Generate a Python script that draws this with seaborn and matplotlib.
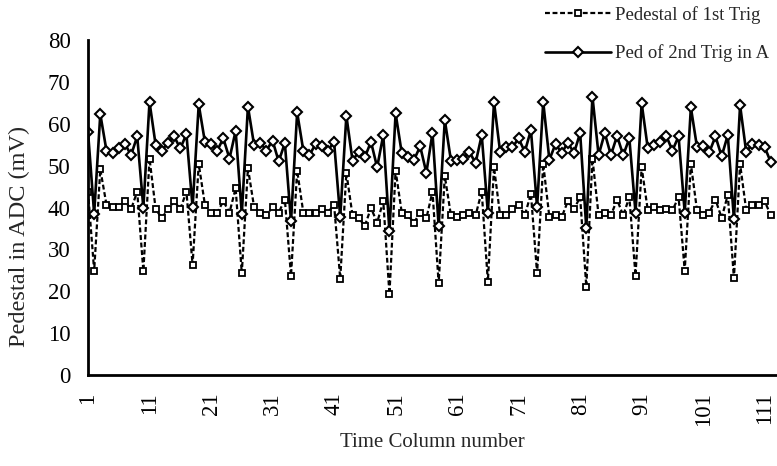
import matplotlib
matplotlib.use("agg")
import matplotlib.pyplot as plt
import numpy as np
import pandas as pd
import seaborn as sns
from matplotlib.lines import Line2D

# pedestal of the 1st trigger (dashed, squares)
ped_1st = [
    43.8, 24.9, 49.1, 40.7, 40.2, 40.2, 41.5, 39.6, 43.8, 24.8,
    51.7, 39.6, 37.5, 39.6, 41.5, 39.6, 43.8, 26.3, 50.4, 40.7,
    38.8, 38.8, 41.5, 38.8, 44.6, 24.3, 49.4, 40.1, 38.8, 38.1,
    40.1, 38.8, 41.9, 23.7, 48.8, 38.8, 38.8, 38.8, 39.6, 38.8,
    40.7, 23.0, 48.3, 38.1, 37.5, 35.6, 39.9, 36.4, 41.5, 19.3,
    48.8, 38.8, 38.1, 36.4, 38.8, 37.4, 43.8, 21.9, 47.5, 38.1,
    37.7, 38.1, 38.8, 38.1, 43.8, 22.3, 49.6, 38.1, 38.1, 39.6,
    40.7, 38.1, 43.3, 24.3, 50.4, 37.7, 38.1, 37.7, 41.5, 39.6,
    42.5, 21.1, 51.7, 38.1, 38.8, 38.1, 41.9, 38.1, 42.5, 23.7,
    49.6, 39.3, 40.1, 39.3, 39.7, 39.3, 42.5, 24.9, 50.4, 39.3,
    38.1, 38.8, 41.9, 37.5, 43.0, 23.1, 50.4, 39.3, 40.5, 40.5,
    41.5, 38.1,
]

# pedestal of the 2nd trigger (solid, diamonds)
ped_2nd = [
    58.1, 38.5, 62.3, 53.6, 53.0, 54.1, 55.2, 52.5, 57.0, 39.9,
    65.2, 54.9, 53.6, 55.5, 57.0, 54.1, 57.5, 40.1, 64.6, 55.7,
    55.2, 53.6, 56.5, 51.7, 58.3, 38.5, 64.1, 54.9, 55.5, 53.6,
    56.0, 51.0, 55.4, 36.7, 62.7, 53.6, 52.5, 55.2, 54.6, 53.6,
    55.7, 37.7, 61.9, 51.2, 53.3, 52.0, 55.7, 49.6, 57.3, 34.3,
    62.5, 53.0, 52.0, 51.4, 54.6, 48.3, 57.8, 35.6, 60.9, 51.2,
    51.4, 51.7, 53.3, 50.6, 57.3, 38.8, 65.2, 53.2, 54.4, 54.4,
    56.5, 53.3, 58.5, 40.1, 65.2, 51.4, 55.2, 53.0, 55.5, 53.0,
    57.8, 35.1, 66.5, 52.5, 57.8, 52.5, 57.1, 52.5, 56.5, 38.8,
    64.9, 54.1, 54.9, 55.7, 57.1, 53.6, 57.0, 38.8, 63.9, 54.4,
    54.6, 53.2, 57.0, 52.2, 57.3, 37.2, 64.4, 53.2, 55.2, 54.9,
    54.4, 50.8,
]

columns = list(range(1, len(ped_1st) + 1))
x_ticks = list(range(1, 112, 10))
y_ticks = list(range(0, 81, 10))
labels = ["Pedestal of 1st Trig", "Ped of 2nd Trig in A"]

df = pd.DataFrame({"col": columns, "ped1": ped_1st, "ped2": ped_2nd})

sns.set_style("white")
plt.rcParams["font.family"] = ["Liberation Serif", "DejaVu Serif"]

fig = plt.figure(figsize=(7.77, 4.66), dpi=100)
ax = fig.add_axes([88 / 777, 91 / 466, 689 / 777, 335 / 466])

dash = (0, (2.2, 1.2))
sns.lineplot(
    data=df, x="col", y="ped1", ax=ax, color="black", linewidth=1.6,
    linestyle=dash, marker="s", markersize=4.6, markerfacecolor="white",
    markeredgecolor="black", markeredgewidth=1.3,
)
sns.lineplot(
    data=df, x="col", y="ped2", ax=ax, color="black", linewidth=1.9,
    marker="D", markersize=5.4, markerfacecolor="white",
    markeredgecolor="black", markeredgewidth=1.5,
)

ax.set_xlim(1, 113)
ax.set_ylim(0, 80)
ax.set_xticks(x_ticks)
ax.set_xticklabels([str(t) for t in x_ticks], rotation=90)
ax.set_yticks(y_ticks)
ax.tick_params(axis="both", direction="inout", length=7, width=1.5,
               labelsize=16.5, color="black", labelcolor="black")
ax.tick_params(axis="y", pad=9)
ax.tick_params(axis="x", pad=9)
for side in ["top", "right"]:
    ax.spines[side].set_visible(False)
for side in ["left", "bottom"]:
    ax.spines[side].set_linewidth(2)
    ax.spines[side].set_color("black")

ax.set_xlabel("Time Column number", fontsize=15, labelpad=5)
ax.set_ylabel("Pedestal in ADC (mV)", fontsize=17.5)
# title sits a bit below the middle of the axis in the original
ax.yaxis.set_label_coords(-0.084, 0.415)

handles = [
    Line2D([], [], color="black", linewidth=1.6, linestyle=dash, marker="s",
           markersize=4.6, markerfacecolor="white", markeredgewidth=1.3),
    Line2D([], [], color="black", linewidth=1.9, marker="D", markersize=5.4,
           markerfacecolor="white", markeredgewidth=1.5),
]
fig.legend(handles, labels, loc="upper left",
           bbox_to_anchor=(545 / 777, 1 - 6 / 466),
           frameon=False, fontsize=13.5, handlelength=3.5, handletextpad=0.25,
           labelspacing=1.1, borderaxespad=0, borderpad=0)

fig.savefig("out.png", dpi=100)
